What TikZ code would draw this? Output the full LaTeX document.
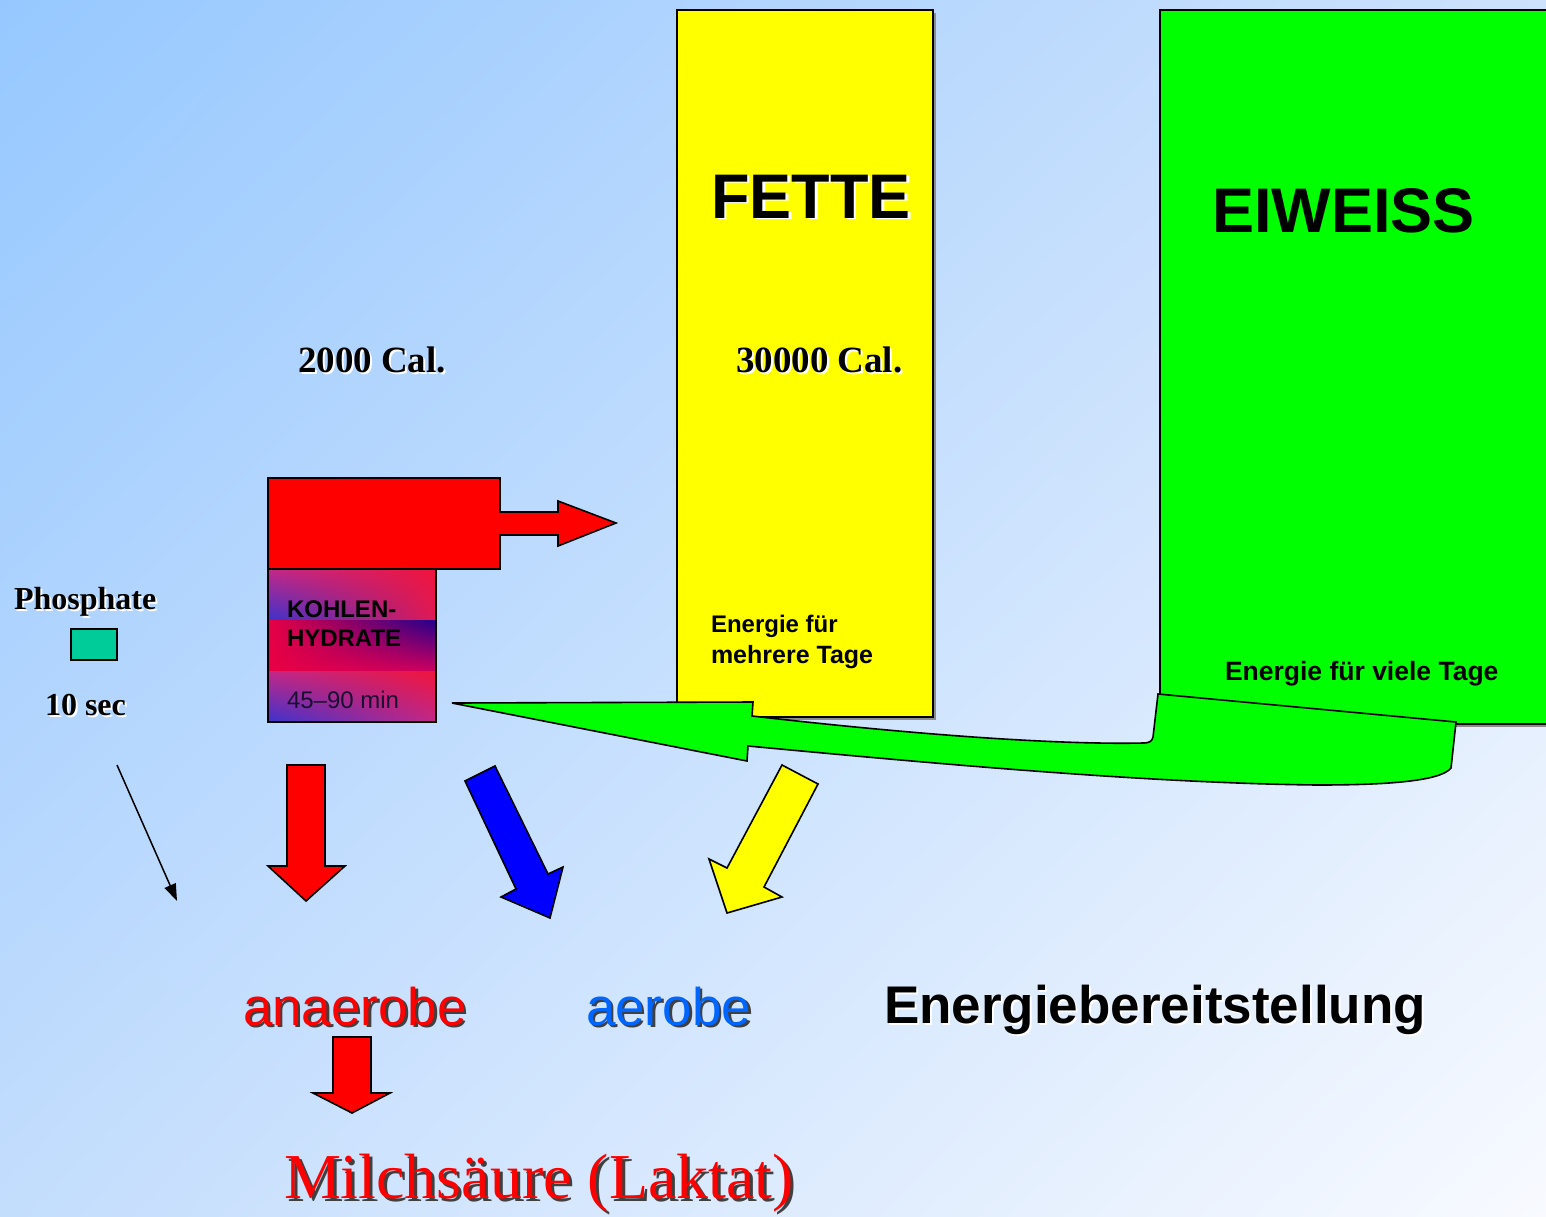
\documentclass[tikz,border=0pt]{standalone}
\usepackage{fontspec}
\setmainfont{Liberation Serif}
\setsansfont{Liberation Sans}
\usetikzlibrary{arrows.meta,shadings}
\definecolor{bgul}{RGB}{150,200,255}
\definecolor{bgur}{RGB}{205,226,252}
\definecolor{bgll}{RGB}{195,221,253}
\definecolor{bglr}{RGB}{248,250,255}
\definecolor{fatyellow}{RGB}{255,255,0}
\definecolor{protgreen}{RGB}{0,255,0}
\definecolor{phosgreen}{RGB}{0,204,153}
\definecolor{aerblue}{RGB}{0,102,255}
\definecolor{khred}{RGB}{240,20,60}
\definecolor{khpurple}{RGB}{195,40,135}
\definecolor{khblue}{RGB}{60,50,205}
\definecolor{khpink}{RGB}{225,25,85}
\definecolor{khcrim}{RGB}{232,0,68}
\definecolor{khnavy}{RGB}{35,0,140}
\definecolor{khmid}{RGB}{205,0,95}
\begin{document}
\begin{tikzpicture}[x=1pt,y=-1pt,
  box/.style={draw=black,line width=2pt},
  shp/.style={draw=black,line width=1.6pt,line join=miter},
  txt/.style={inner sep=0pt,outer sep=0pt,anchor=base west},
  sansB/.style={font=\sffamily\bfseries\fontsize{#1}{#1}\selectfont},
  sansR/.style={font=\sffamily\fontsize{#1}{#1}\selectfont},
  serifB/.style={font=\rmfamily\bfseries\fontsize{#1}{#1}\selectfont},
  serifR/.style={font=\rmfamily\fontsize{#1}{#1}\selectfont},
  wshadow/.style={text=white},
  dshadow/.style={text=black!75}
]
\clip (0,0) rectangle (1546,1216);
\useasboundingbox (0,0) rectangle (1546,1216);
% background
\shade[upper left=bgul,upper right=bgur,lower left=bgll,lower right=bglr] (0,0) rectangle (1546,1216);

% FETTE box
\fill[black!45] (680,13) rectangle (936,720);
\draw[box,fill=fatyellow] (677,10) rectangle (933,717);
% EIWEISS box
\fill[black!45] (1163,13) rectangle (1560,727);
\draw[box,fill=protgreen] (1160,10) rectangle (1560,724);

% green arrow (from Eiweiss back to Kohlenhydrate)
\draw[shp,fill=protgreen] (452,703) -- (753,702) -- (752,716)
  .. controls (900,733) and (1050,745) .. (1143,743)
  .. controls (1150,743) and (1152,741) .. (1153,737)
  -- (1158,694) -- (1456,722) -- (1451,768)
  .. controls (1440,782) and (1380,785) .. (1317,785)
  .. controls (1150,783) and (950,765) .. (748,746)
  -- (747,761) -- cycle;

% red box with arrow to the right
\draw[shp,fill=red] (268,478) -- (500,478) -- (500,512) -- (558,512) -- (558,501)
  -- (616,523) -- (558,546) -- (558,535) -- (500,535) -- (500,569) -- (268,569) -- cycle;

% Kohlenhydrate box (three shaded bands)
\shade[upper left=khpurple,upper right=khred,lower left=khblue,lower right=khpink] (268,569) rectangle (436,620);
\shade[upper left=khcrim,upper right=khnavy,lower left=khcrim,lower right=khmid] (268,620) rectangle (436,671);
\shade[upper left=khpurple,upper right=khred,lower left=khblue,lower right=khpurple] (268,671) rectangle (436,722);
\draw[box] (268,569) rectangle (436,722);

% phosphate rectangle
\draw[line width=1.5pt,fill=phosgreen] (71,629) rectangle (117,660);

% thin arrow
\coordinate (thinA) at (117,765);
\coordinate (thinB) at (177,901);
\draw[line width=1.5pt,-{Triangle[length=17pt,width=12pt]}] (thinA) -- (thinB);

% red down arrow
\draw[shp,fill=red] (287,765) -- (325,765) -- (325,866) -- (345,866) -- (306,901) -- (268,866) -- (287,866) -- cycle;
% blue arrow
\draw[shp,fill=blue] (465,781) -- (495,766) -- (548,874) -- (563,867) -- (550,918) -- (501,897) -- (516,889) -- cycle;
% yellow arrow
\draw[shp,fill=fatyellow] (782,765) -- (818,784) -- (764,887) -- (782,897) -- (727,913) -- (709,859) -- (727,868) -- cycle;
% red arrow to lactate
\draw[shp,fill=red] (333,1037) -- (371,1037) -- (371,1093) -- (390,1093) -- (352,1113) -- (313,1093) -- (333,1093) -- cycle;

% texts
\node[txt,sansB=63,wshadow] (fetteS) at (713.5,219.5) {FETTE};
\node[txt,sansB=63] (fette) at (711,218) {FETTE};
\node[txt,sansB=63] (eiweiss) at (1212,232) {EIWEISS};

\node[txt,serifB=37,wshadow] (cal2S) at (300,374) {2000 Cal.};
\node[txt,serifB=37] (cal2) at (298,372) {2000 Cal.};
\node[txt,serifB=37,wshadow] (cal30S) at (738,374) {30000 Cal.};
\node[txt,serifB=37] (cal30) at (736,372) {30000 Cal.};

\node[txt,sansB=24] (efa) at (711,632) {Energie für};
\node[txt,sansB=25] (efb) at (711,663) {mehrere Tage};
\node[txt,sansB=26.5] (efv) at (1225,680) {Energie für viele Tage};

\node[txt,serifB=32,wshadow] (phosS) at (16,611) {Phosphate};
\node[txt,serifB=32] (phos) at (14,609) {Phosphate};
\node[txt,serifB=32,wshadow] (secS) at (47,717) {10 sec};
\node[txt,serifB=32] (sec) at (45,715) {10 sec};

\node[txt,sansB=24] (kha) at (287,617) {KOHLEN-};
\node[txt,sansB=24] (khb) at (287,646) {HYDRATE};
\node[txt,sansR=24,text={rgb,255:red,25;green,15;blue,50}] (khmin) at (287,708) {45–90 min};

\node[txt,sansR=53,dshadow] (anaS) at (245.5,1027.5) {anaerobe};
\node[txt,sansR=53,text=red] (ana) at (243,1025) {anaerobe};
\node[txt,sansR=53,dshadow] (aerS) at (588.5,1027.5) {aerobe};
\node[txt,sansR=53,text=aerblue] (aer) at (586,1025) {aerobe};
\node[txt,sansB=53,wshadow] (ebS) at (886,1025) {Energiebereitstellung};
\node[txt,sansB=53] (eb) at (884,1023) {Energiebereitstellung};

\node[txt,serifR=64,dshadow] (milchS) at (287,1201) {Milchsäure (Laktat)};
\node[txt,serifR=64,text=red] (milch) at (284,1198) {Milchsäure (Laktat)};
\end{tikzpicture}
\end{document}
